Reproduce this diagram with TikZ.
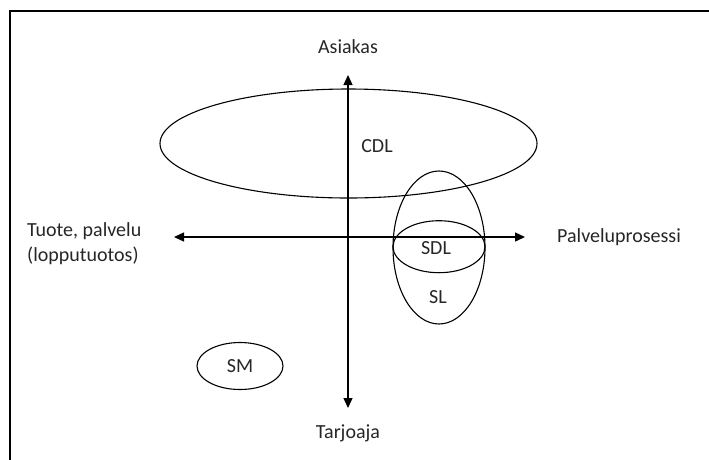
\documentclass[tikz,border=0pt]{standalone}
\usepackage{fontspec}
\setmainfont{Carlito}
\usetikzlibrary{arrows.meta,shapes.geometric}
\begin{document}
\begin{tikzpicture}[x=1pt,y=-1pt,
  txt/.style={font=\fontsize{20}{25}\selectfont, text=black!85, inner sep=0pt},
  oval/.style={ellipse, draw, line width=1.1pt, inner sep=0pt},
  axis/.style={line width=1.3pt, {Triangle[length=10pt,width=9pt]}-{Triangle[length=10pt,width=9pt]}}]
  \useasboundingbox (0,0) rectangle (709,459);
  % frame (open towards right and bottom)
  \draw[line width=2.2pt] (10,462) -- (10,11) -- (712,11);

  % ovals
  \node[oval, minimum width=377pt, minimum height=109pt] (cdlo) at (348.5,143.5) {};
  \node[oval, minimum width=92pt, minimum height=153pt] (slo) at (439,247.5) {};
  \node[oval, minimum width=92pt, minimum height=52pt] (sdlo) at (439,246.7) {};
  \node[oval, minimum width=86pt, minimum height=47pt] (smo) at (240,366) {};

  % axis end points
  \coordinate (top) at (348,75);
  \coordinate (bottom) at (348,408);
  \coordinate (left) at (174,237);
  \coordinate (right) at (525,237);
  \draw[axis] (bottom) -- (top);
  \draw[axis] (left) -- (right);

  % labels
  \node[txt] (asiakas) at (348,47) {Asiakas};
  \node[txt] (tarjoaja) at (348,433) {Tarjoaja};
  \node[txt, anchor=west] (palvelu) at (557,237) {Palveluprosessi};
  \node[txt, anchor=west, align=left] (tuote) at (27,244) {Tuote, palvelu\\(lopputuotos)};
  \node[txt] (cdl) at (377,146) {CDL};
  \node[txt] (sdl) at (436,248) {SDL};
  \node[txt] (sl) at (438,297) {SL};
  \node[txt] (sm) at (240,366) {SM};
\end{tikzpicture}
\end{document}
